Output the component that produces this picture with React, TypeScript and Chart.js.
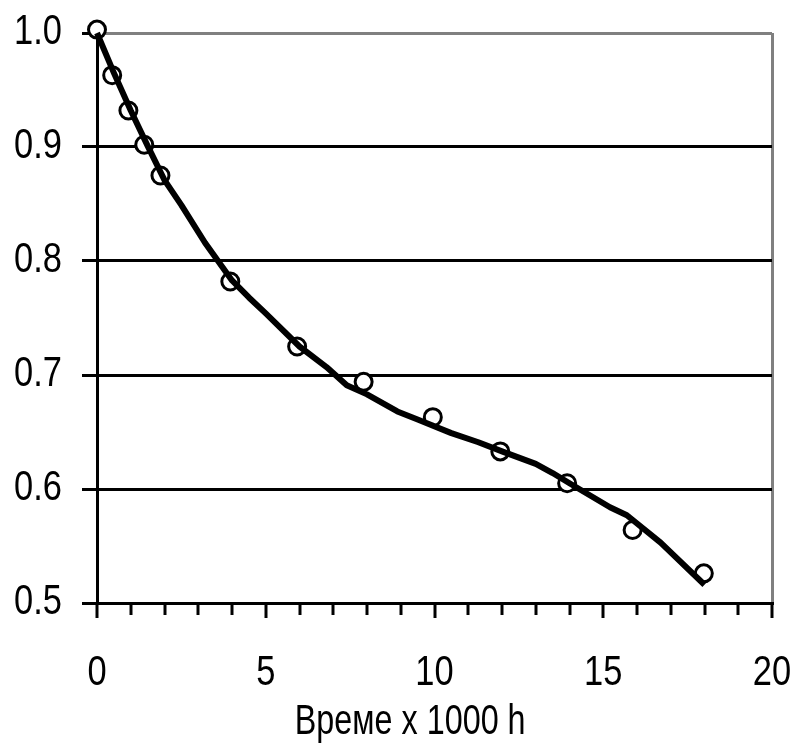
import React, { useEffect, useRef } from "react";
import { Chart, registerables } from "chart.js";

Chart.register(...registerables);

// Measured points
const pointX = [0, 0.45, 0.93, 1.4, 1.88, 3.95, 5.93, 7.9, 9.95, 11.95, 13.93, 15.87, 17.98];
const pointY = [1.003, 0.963, 0.932, 0.902, 0.875, 0.782, 0.725, 0.694, 0.663, 0.633, 0.605, 0.564, 0.526];

// Fitted curve
const lineX = [0, 0.5, 1, 1.5, 2, 2.5, 3.2, 4, 4.5, 5, 6, 6.8, 7.4, 8, 8.9, 9.5, 10.5, 11.3, 12, 13, 13.5, 14, 15.2, 15.7, 16.7, 18];
const lineY = [1.0, 0.965, 0.932, 0.901, 0.871, 0.849, 0.816, 0.783, 0.768, 0.754, 0.725, 0.707, 0.691, 0.683, 0.668, 0.661, 0.649, 0.641, 0.633, 0.622, 0.614, 0.605, 0.584, 0.577, 0.553, 0.516];

const xTickLabels = ["0", "5", "10", "15", "20"];
const yTickLabels = ["0.5", "0.6", "0.7", "0.8", "0.9", "1.0"];
const xTitle = "Време x 1000 h";

const FONT = '"Liberation Sans", Arial, sans-serif';
const NARROW = 0.82;
const TITLE_NARROW = 0.77;

function narrowText(ctx: any, text: string, x: number, y: number, align: string, k: number) {
  ctx.save();
  ctx.translate(x, y);
  ctx.scale(k, 1);
  ctx.textAlign = align;
  ctx.fillText(text, 0, 0);
  ctx.restore();
}

const axisPlugin = {
  id: "narrowAxis",
  afterDraw(chart: any) {
    const ctx = chart.ctx;
    const xs = chart.scales.x;
    const ys = chart.scales.y;
    const area = chart.chartArea;
    ctx.save();
    // x tick marks: longer at labelled values
    ctx.strokeStyle = "#000";
    ctx.lineWidth = 3;
    ctx.lineCap = "butt";
    xs.ticks.forEach((t: any) => {
      const px = Math.round(xs.getPixelForValue(t.value));
      const major = t.value % 5 === 0;
      ctx.beginPath();
      ctx.moveTo(px, area.bottom);
      ctx.lineTo(px, area.bottom + (major ? 15 : 12));
      ctx.stroke();
    });
    // labels (Arial Narrow look)
    ctx.fillStyle = "#000";
    ctx.font = `42px ${FONT}`;
    ctx.textBaseline = "middle";
    xs.ticks.forEach((t: any) => {
      const n = Number(t.value);
      if (n % 5 !== 0) return;
      narrowText(ctx, xTickLabels[n / 5], xs.getPixelForValue(n), area.bottom + 70, "center", NARROW);
    });
    ys.ticks.forEach((t: any) => {
      const i = Math.round((Number(t.value) - 0.5) * 10);
      const label = yTickLabels[i];
      if (!label) return;
      narrowText(ctx, label, area.left - 35, ys.getPixelForValue(t.value) - 1, "right", NARROW);
    });
    narrowText(ctx, xTitle, area.left + (area.right - area.left) * 0.464, area.bottom + 119, "center", TITLE_NARROW);
    ctx.restore();
  },
};

export default function App() {
  const ref = useRef<HTMLCanvasElement | null>(null);
  useEffect(() => {
    if (!ref.current) return;
    const chart = new Chart(ref.current, {
      type: "scatter",
      data: {
        datasets: [
          {
            label: "fit",
            data: lineX.map((x, i) => ({ x, y: lineY[i] })),
            showLine: true,
            borderColor: "#000",
            borderWidth: 6,
            pointRadius: 0,
            tension: 0,
            borderJoinStyle: "round",
            borderCapStyle: "butt",
            order: 1,
            clip: false,
          } as any,
          {
            label: "data",
            data: pointX.map((x, i) => ({ x, y: pointY[i] })),
            showLine: false,
            pointRadius: 8.5,
            pointBorderWidth: 3,
            pointBorderColor: "#000",
            pointBackgroundColor: "#fff",
            order: 2,
            clip: false,
          } as any,
        ],
      },
      options: {
        animation: false,
        responsive: false,
        devicePixelRatio: 1,
        layout: { padding: { left: 0, right: 18, top: 33, bottom: 0 } },
        plugins: { legend: { display: false }, tooltip: { enabled: false } },
        scales: {
          x: {
            type: "linear",
            min: 0,
            max: 20,
            afterFit: (s: any) => {
              s.height = 141;
              s.paddingLeft = 0;
              s.paddingRight = 0;
            },
            ticks: { stepSize: 1, autoSkip: false, maxRotation: 0, display: false },
            grid: {
              drawOnChartArea: true,
              drawTicks: false,
              lineWidth: 3,
              color: (c: any) => (c.tick && c.tick.value === 20 ? "#808080" : "rgba(0,0,0,0)"),
            },
            border: { display: true, color: "#000", width: 3 },
          },
          y: {
            type: "linear",
            min: 0.5,
            max: 1.0,
            afterFit: (s: any) => {
              s.width = 97;
              s.paddingTop = 0;
              s.paddingBottom = 0;
            },
            ticks: { stepSize: 0.1, display: false },
            grid: {
              drawTicks: true,
              tickLength: 15,
              tickColor: "#000",
              lineWidth: 3,
              color: (c: any) => (c.tick && Math.abs(c.tick.value - 1) < 1e-6 ? "#808080" : "#000"),
            },
            border: { display: true, color: "#000", width: 3 },
          },
        },
      },
      plugins: [axisPlugin],
    });
    return () => chart.destroy();
  }, []);
  return (
    <div style={{ position: "fixed", left: 0, top: 0, width: 790, height: 744, background: "#fff" }}>
      <canvas ref={ref} width={790} height={744} style={{ width: 790, height: 744, display: "block" }} />
    </div>
  );
}
